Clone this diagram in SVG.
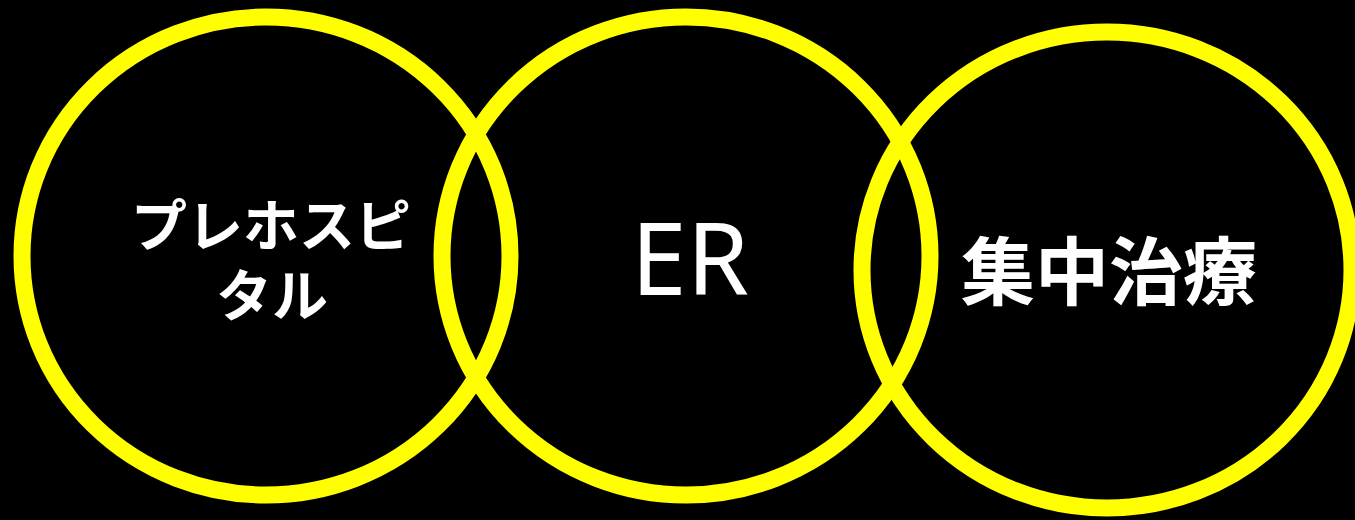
<svg xmlns="http://www.w3.org/2000/svg" width="1355" height="520" viewBox="0 0 1355 520">
<style>
.ring{fill:none;stroke:#ffff00;stroke-width:17}
.lbl{fill:#ffffff;text-anchor:middle;font-family:"Noto Sans CJK JP","Noto Sans",sans-serif}
.b{font-weight:bold}
</style>
<rect x="0" y="0" width="1355" height="520" fill="#000000"/>
<g id="node-prehospital">
<ellipse class="ring" cx="266" cy="256" rx="244" ry="239"/>
<text class="lbl b" x="271" y="246" font-size="56">プレホスピ</text>
<text class="lbl b" x="272" y="316" font-size="56">タル</text>
</g>
<g id="node-er">
<ellipse class="ring" cx="686" cy="256" rx="244" ry="239"/>
<text class="lbl" x="690" y="295" font-size="100" style="font-family:'Noto Sans',sans-serif">ER</text>
</g>
<g id="node-icu">
<ellipse class="ring" cx="1107" cy="270" rx="245" ry="238"/>
<text class="lbl b" x="1109" y="299" font-size="74">集中治療</text>
</g>
<g id="connectors"></g>
</svg>
